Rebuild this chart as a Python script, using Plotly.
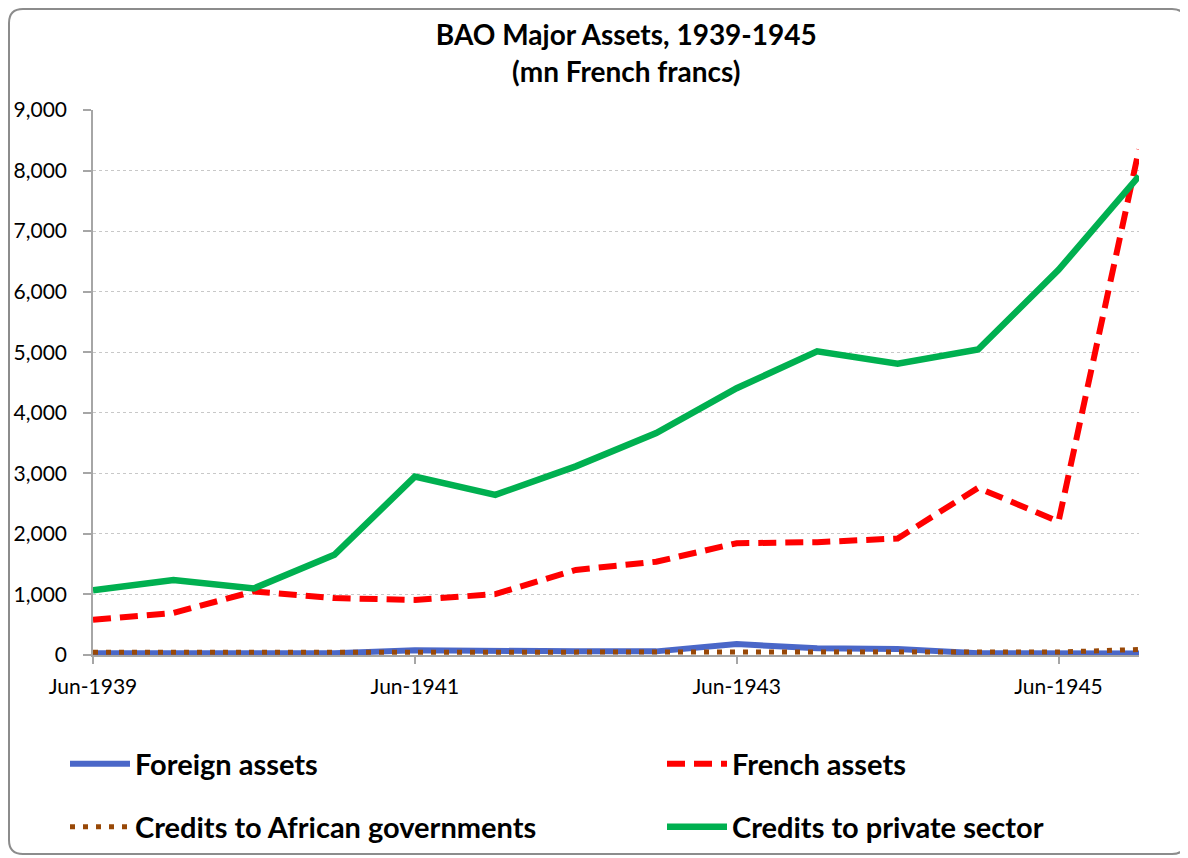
import plotly.graph_objects as go

# half-yearly observations, Jun-1939 .. Dec-1945
periods = ["Jun-1939", "Dec-1939", "Jun-1940", "Dec-1940", "Jun-1941", "Dec-1941", "Jun-1942",
           "Dec-1942", "Jun-1943", "Dec-1943", "Jun-1944", "Dec-1944", "Jun-1945", "Dec-1945"]
tick_labels = ["Jun-1939", "Jun-1941", "Jun-1943", "Jun-1945"]

foreign_assets = [30, 30, 30, 30, 80, 60, 60, 60, 180, 110, 100, 30, 25, 25]
french_assets = [580, 695, 1050, 940, 910, 1005, 1405, 1540, 1846, 1863, 1925, 2760, 2205, 8350]
credits_african_govts = [45, 45, 45, 45, 45, 45, 45, 45, 45, 45, 45, 45, 50, 90]
credits_private = [1070, 1240, 1100, 1655, 2945, 2645, 3115, 3665, 4405, 5015, 4810, 5045, 6360, 7910]

FONT = "Lato, 'Open Sans', sans-serif"

# figure is a bit smaller than the window: the page body adds an 8px margin
W, H = 1180, 850
L, R, T, B = 85, 49, 102, 203
pw, ph = W - L - R, H - T - B


def px_x(p):
    return (p - L) / pw


def px_y(p):
    return (H - B - p) / ph


series = [
    ("Foreign assets", foreign_assets, dict(color="#4A67C8", width=6), "legend"),
    ("French assets", french_assets, dict(color="#FF0000", width=6, dash="18px,9px"), "legend2"),
    ("Credits to African governments", credits_african_govts,
     dict(color="#984807", width=5, dash="5px,8px"), "legend3"),
    ("Credits to private sector", credits_private, dict(color="#00B050", width=6.5), "legend4"),
]

fig = go.Figure()
for name, vals, line, leg in series:
    fig.add_trace(go.Scatter(x=periods, y=vals, mode="lines", name=name, line=line,
                             legend=leg, cliponaxis=False))

# one legend per entry so the 2x2 arrangement stays put
leg_common = dict(font=dict(family=FONT, size=29, color="#000000", weight="bold"),
                  itemwidth=60, bgcolor="rgba(0,0,0,0)", yanchor="middle", xanchor="left")
row1, row2 = px_y(756), px_y(819)
col1, col2 = px_x(57), px_x(654)
fig.update_layout(
    legend=dict(x=col1, y=row1, **leg_common),
    legend2=dict(x=col2, y=row1, **leg_common),
    legend3=dict(x=col1, y=row2, **leg_common),
    legend4=dict(x=col2, y=row2, **leg_common),
)

fig.update_layout(
    width=W, height=H,
    margin=dict(l=L, r=R, t=T, b=B, autoexpand=False),
    paper_bgcolor="white", plot_bgcolor="white",
    font=dict(family=FONT, size=21, color="#000000"),
    title=dict(text="BAO Major Assets, 1939-1945<br>(mn French francs)",
               font=dict(family=FONT, size=28, color="#000000", weight="bold"),
               x=0.524, xanchor="center", y=0.956, yanchor="top"),
    showlegend=True,
)

fig.update_xaxes(type="category", range=[0, len(periods) - 1],
                 tickvals=tick_labels, ticktext=tick_labels,
                 showgrid=False, showline=True, linecolor="#A6A6A6", linewidth=1.5,
                 ticks="outside", ticklen=7, tickcolor="#A6A6A6", tickwidth=1.5,
                 ticklabelstandoff=5, tickfont=dict(size=21), zeroline=False)
fig.update_yaxes(range=[0, 9000], dtick=1000, tickformat=",",
                 showgrid=True, gridcolor="#C8C8C8", griddash="dot", gridwidth=1,
                 showline=True, linecolor="#A6A6A6", linewidth=1.5,
                 ticks="outside", ticklen=8, tickcolor="#A6A6A6", tickwidth=1.5,
                 ticklabelstandoff=12, tickfont=dict(size=21), zeroline=False)

# rounded chart-area border
x0, x1 = px_x(1), px_x(1178)
y0, y1 = px_y(846), px_y(1)
rx, ry = 14 / pw, 14 / ph
path = (f"M {x0},{y1 - ry} Q {x0},{y1} {x0 + rx},{y1} L {x1 - rx},{y1} Q {x1},{y1} {x1},{y1 - ry} "
        f"L {x1},{y0 + ry} Q {x1},{y0} {x1 - rx},{y0} L {x0 + rx},{y0} Q {x0},{y0} {x0},{y0 + ry} Z")
fig.add_shape(type="path", xref="paper", yref="paper", layer="below", path=path,
              line=dict(color="#8C8C8C", width=2))

fig.write_html("out.html")
